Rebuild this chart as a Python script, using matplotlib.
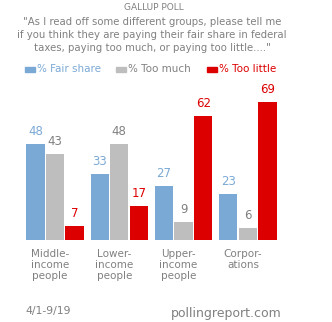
import numpy as np
import matplotlib.pyplot as plt
from matplotlib.patches import Rectangle

groups = ['Middle-\nincome\npeople', 'Lower-\nincome\npeople', 'Upper-\nincome\npeople', 'Corpor-\nations']
fair_share = [48, 33, 27, 23]
too_much = [43, 48, 9, 6]
too_little = [7, 17, 62, 69]
series_names = ['% Fair share', '% Too much', '% Too little']

blue = '#7BA9D6'
gray = '#BEBEBE'
red = '#DD0000'
txt_gray = '#808080'

W, H = 332, 322
fig = plt.figure(figsize=(W/100., H/100.), dpi=100)

# axes placed in pixel terms: baseline at y=240 from top, 2 px per point
ax = fig.add_axes([0, (H-240)/H, 1, 150./H])
ax.set_xlim(-55/64.3, (W-55)/64.3)
ax.set_ylim(0, 75)
ax.axis('off')

x = np.arange(len(groups))
bw = 0.285
offs = [-0.305, 0, 0.305]
cols = [blue, gray, red]
lab_cols = [blue, txt_gray, red]
for k, vals in enumerate([fair_share, too_much, too_little]):
    ax.bar(x + offs[k], vals, width=bw, color=cols[k])
    for i, v in enumerate(vals):
        ax.text(x[i] + offs[k], v + 3, str(v), ha='center', va='bottom',
                fontsize=8.5, color=lab_cols[k], clip_on=False)

# category labels below bars
for i, g in enumerate(groups):
    fig.text((55 + 64.3*i - 5)/W, 1 - 249/H, g, ha='center', va='top',
             fontsize=7.5, color=txt_gray, linespacing=1.15)

# header
fig.text(154/W, 1 - 7/H, 'GALLUP POLL', ha='center', va='center', fontsize=6.5, color=txt_gray)
quote = ('"As I read off some different groups, please tell me\n'
         'if you think they are paying their fair share in federal\n'
         'taxes, paying too much, or paying too little...."')
fig.text(152/W, 1 - 35/H, quote, ha='center', va='center', fontsize=7.3, color=txt_gray,
         linespacing=1.42)

# legend
leg_x = [25, 116, 207]
for k in range(3):
    fig.patches.append(Rectangle((leg_x[k]/W, 1 - 72/H), 10/W, 5/H, color=cols[k],
                                 transform=fig.transFigure))
    fig.text((leg_x[k] + 12)/W, 1 - 69/H, series_names[k], ha='left', va='center',
             fontsize=7.5, color=lab_cols[k])

# footer
fig.text(25/W, 1 - 311/H, '4/1-9/19', ha='left', va='center', fontsize=7.8, color=txt_gray)
fig.text(226/W, 1 - 313/H, 'pollingreport.com', ha='center', va='center', fontsize=9,
         color=txt_gray)

fig.savefig('out.png', dpi=100, facecolor='white')
